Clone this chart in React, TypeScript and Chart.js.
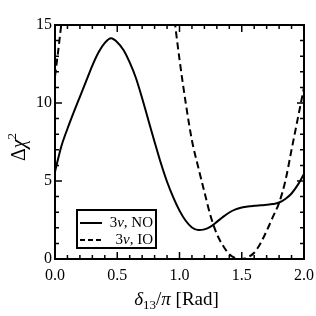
import React, { useEffect, useRef } from "react";
import { Chart, registerables } from "chart.js";

Chart.register(...registerables);

// δ13/π values for the NO curve
const deltaNO = [0, 0.05, 0.1, 0.15, 0.2, 0.25, 0.3, 0.35, 0.4, 0.45, 0.5, 0.55, 0.6, 0.65, 0.7, 0.75, 0.8, 0.85, 0.9, 0.95, 1.0, 1.05, 1.1, 1.15, 1.2, 1.25, 1.3, 1.35, 1.4, 1.45, 1.5, 1.55, 1.6, 1.65, 1.7, 1.75, 1.8, 1.85, 1.9, 1.95, 2.0];
const chi2NO = [5.6, 7.2, 8.35, 9.4, 10.4, 11.4, 12.4, 13.25, 13.85, 14.15, 13.9, 13.4, 12.6, 11.6, 10.3, 8.9, 7.5, 6.15, 4.95, 3.95, 3.1, 2.45, 2.02, 1.86, 1.9, 2.08, 2.38, 2.7, 2.98, 3.18, 3.3, 3.37, 3.41, 3.44, 3.47, 3.52, 3.62, 3.85, 4.2, 4.75, 5.45];

// δ13/π values for the IO curve (null = outside the plotted range)
const deltaIO = [0, 0.025, 0.05, 0.1, 0.5, 0.9, 0.95, 1.0, 1.05, 1.1, 1.15, 1.2, 1.25, 1.3, 1.35, 1.4, 1.45, 1.5, 1.55, 1.6, 1.65, 1.7, 1.75, 1.8, 1.85, 1.9, 1.95, 2.0];
const chi2IO: (number | null)[] = [11.7, 13.3, 15.0, 18.5, null, 19.5, 16.0, 12.8, 10.0, 7.6, 5.9, 4.3, 2.75, 1.6, 0.85, 0.3, 0.05, 0.0, 0.12, 0.4, 1.0, 1.8, 2.7, 3.6, 5.0, 7.0, 9.0, 11.0];

const seriesLabels = ["3ν, NO", "3ν, IO"];

const xMajorTicks = [0, 0.5, 1, 1.5, 2];
const xTickLabels = ["0.0", "0.5", "1.0", "1.5", "2.0"];
const xMinorTicks = [0, 0.1, 0.2, 0.3, 0.4, 0.5, 0.6, 0.7, 0.8, 0.9, 1, 1.1, 1.2, 1.3, 1.4, 1.5, 1.6, 1.7, 1.8, 1.9, 2];
const yMajorTicks = [0, 5, 10, 15];
const yTickLabels = ["0", "5", "10", "15"];
const yMinorTicks = [0, 1, 2, 3, 4, 5, 6, 7, 8, 9, 10, 11, 12, 13, 14, 15];

const SERIF = "'Liberation Serif', 'Times New Roman', serif";

function drawPieces(ctx: CanvasRenderingContext2D, pieces: { t: string; font: string; dy?: number }[], x: number, y: number, align: "center" | "right") {
  let total = 0;
  const widths = pieces.map((p) => {
    ctx.font = p.font;
    const w = ctx.measureText(p.t).width;
    total += w;
    return w;
  });
  let cx = align === "center" ? x - total / 2 : x - total;
  ctx.textAlign = "left";
  ctx.textBaseline = "alphabetic";
  pieces.forEach((p, i) => {
    ctx.font = p.font;
    ctx.fillText(p.t, cx, y + (p.dy || 0));
    cx += widths[i];
  });
}

const framePlugin = {
  id: "frameTicks",
  afterDraw(chart: any) {
    const { ctx, chartArea: a, scales } = chart;
    const xs = scales.x;
    const ys = scales.y;
    ctx.save();
    ctx.strokeStyle = "#000";
    ctx.fillStyle = "#000";
    ctx.lineWidth = 1.5;
    ctx.beginPath();
    xMinorTicks.forEach((v) => {
      const px = xs.getPixelForValue(v);
      const L = xMajorTicks.includes(v) ? 7 : 4;
      ctx.moveTo(px, a.bottom);
      ctx.lineTo(px, a.bottom - L);
      ctx.moveTo(px, a.top);
      ctx.lineTo(px, a.top + L);
    });
    yMinorTicks.forEach((v) => {
      const py = ys.getPixelForValue(v);
      const L = yMajorTicks.includes(v) ? 7 : 4;
      ctx.moveTo(a.left, py);
      ctx.lineTo(a.left + L, py);
      ctx.moveTo(a.right, py);
      ctx.lineTo(a.right - L, py);
    });
    ctx.stroke();
    ctx.lineWidth = 2;
    ctx.strokeRect(a.left, a.top, a.right - a.left, a.bottom - a.top);

    // x title: δ13/π [Rad]
    drawPieces(
      ctx,
      [
        { t: "δ", font: `italic 19px ${SERIF}` },
        { t: "13", font: `13px ${SERIF}`, dy: 4 },
        { t: "/", font: `19px ${SERIF}` },
        { t: "π", font: `italic 19px ${SERIF}` },
        { t: " [Rad]", font: `19px ${SERIF}` },
      ],
      (a.left + a.right) / 2 - 3,
      a.bottom + 46,
      "center"
    );

    // y title: Δχ²
    ctx.save();
    ctx.translate(a.left - 30, (a.top + a.bottom) / 2 + 5);
    ctx.rotate(-Math.PI / 2);
    drawPieces(
      ctx,
      [
        { t: "Δ", font: `20px ${SERIF}` },
        { t: "χ", font: `italic 20px ${SERIF}` },
        { t: "2", font: `13px ${SERIF}`, dy: -9 },
      ],
      0,
      0,
      "center"
    );
    ctx.restore();

    // legend box
    const datasets = chart.data.datasets;
    const bx = a.left + 22;
    const by = a.bottom - 49;
    const bw = 79;
    const bh = 38;
    ctx.fillStyle = "#fff";
    ctx.fillRect(bx, by, bw, bh);
    ctx.lineWidth = 2;
    ctx.strokeStyle = "#000";
    ctx.strokeRect(bx, by, bw, bh);
    ctx.fillStyle = "#000";
    datasets.forEach((ds: any, i: number) => {
      const ly = by + 13 + i * 17;
      ctx.save();
      ctx.lineWidth = 2;
      ctx.setLineDash(ds.borderDash && ds.borderDash.length ? [5, 3] : []);
      ctx.beginPath();
      ctx.moveTo(bx + 3, ly);
      ctx.lineTo(bx + 25, ly);
      ctx.stroke();
      ctx.restore();
      const parts = String(ds.label).split("ν");
      drawPieces(
        ctx,
        [
          { t: parts[0], font: `15px ${SERIF}` },
          { t: "ν", font: `italic 15px ${SERIF}` },
          { t: parts[1], font: `15px ${SERIF}` },
        ],
        bx + bw - 3,
        ly + 4,
        "right"
      );
    });
    ctx.restore();
  },
};

export default function App() {
  const canvasRef = useRef<HTMLCanvasElement | null>(null);

  useEffect(() => {
    if (!canvasRef.current) return;
    const chart = new Chart(canvasRef.current, {
      type: "line",
      data: {
        datasets: [
          {
            label: seriesLabels[0],
            data: deltaNO.map((x, i) => ({ x, y: chi2NO[i] })),
            borderColor: "#000",
            borderWidth: 2,
            pointRadius: 0,
            cubicInterpolationMode: "monotone",
            fill: false,
          },
          {
            label: seriesLabels[1],
            data: deltaIO.map((x, i) => ({ x, y: chi2IO[i] })) as any,
            borderColor: "#000",
            borderWidth: 2,
            borderDash: [7, 4],
            pointRadius: 0,
            cubicInterpolationMode: "monotone",
            fill: false,
            spanGaps: false,
          },
        ],
      },
      options: {
        animation: false,
        responsive: false,
        devicePixelRatio: 1,
        layout: { padding: { left: 0, top: 25, right: 12, bottom: 0 } },
        plugins: { legend: { display: false }, tooltip: { enabled: false } },
        scales: {
          x: {
            type: "linear",
            min: 0,
            max: 2,
            afterBuildTicks: (s: any) => {
              s.ticks = xMajorTicks.map((v) => ({ value: v }));
            },
            afterFit: (s: any) => {
              s.height = 57;
              s.paddingLeft = 0;
              s.paddingRight = 0;
            },
            grid: { display: false, drawTicks: false },
            border: { display: false },
            ticks: {
              padding: 7,
              color: "#000",
              font: { family: SERIF, size: 16 },
              maxRotation: 0,
              callback: (v: any) => xTickLabels[xMajorTicks.indexOf(Number(v))] ?? "",
            },
          },
          y: {
            type: "linear",
            min: 0,
            max: 15,
            afterBuildTicks: (s: any) => {
              s.ticks = yMajorTicks.map((v) => ({ value: v }));
            },
            afterFit: (s: any) => {
              s.width = 55;
              s.paddingTop = 0;
              s.paddingBottom = 0;
            },
            grid: { display: false, drawTicks: false },
            border: { display: false },
            ticks: {
              padding: 3,
              color: "#000",
              font: { family: SERIF, size: 16 },
              callback: (v: any) => yTickLabels[yMajorTicks.indexOf(Number(v))] ?? "",
            },
          },
        },
      },
      plugins: [framePlugin],
    } as any);
    return () => chart.destroy();
  }, []);

  return (
    <div style={{ position: "fixed", left: 0, top: 0, width: 316, height: 316, background: "#fff" }}>
      <canvas ref={canvasRef} width={316} height={316} />
    </div>
  );
}
